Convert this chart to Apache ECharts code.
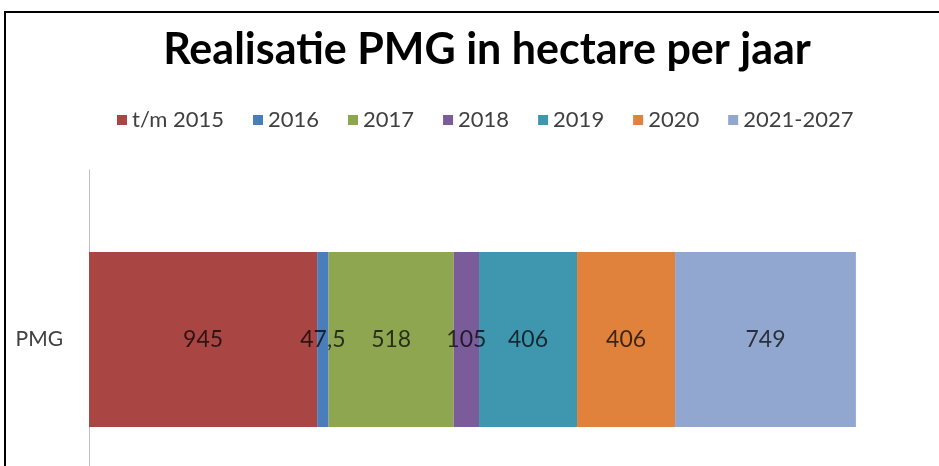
<!DOCTYPE html>
<html>
<head>
<meta charset="utf-8">
<script src="https://cdn.jsdelivr.net/npm/echarts@6/dist/echarts.min.js"></script>
<style>
html,body{margin:0;padding:0;background:#fff;}
#chart{width:939px;height:466px;}
</style>
</head>
<body>
<div id="chart"></div>
<script>
const titleText = 'Realisatie PMG in hectare per jaar';
const categories = ['PMG'];
const seriesNames = ['t/m 2015', '2016', '2017', '2018', '2019', '2020', '2021-2027'];
const seriesValues = [945, 47.5, 518, 105, 406, 406, 749];
const seriesColors = ['#A94643', '#4A7EBB', '#8DA64F', '#7B5C9A', '#3F96AF', '#E0823C', '#91A7CF'];

const chart = echarts.init(document.getElementById('chart'));
const font = 'Lato, "Open Sans", sans-serif';

const series = seriesNames.map((name, i) => ({
  name: name,
  type: 'bar',
  stack: 'total',
  barWidth: 175,
  data: [seriesValues[i]],
  itemStyle: { color: seriesColors[i] },
  label: {
    show: true,
    position: 'inside',
    color: 'rgba(0,0,0,0.72)',
    fontFamily: font,
    fontSize: 23,
    formatter: p => String(p.value).replace('.', ',')
  },
  emphasis: { disabled: true }
}));

chart.setOption({
  animation: false,
  backgroundColor: '#fff',
  graphic: [{
    type: 'rect',
    shape: { x: 5, y: 12, width: 1000, height: 1000 },
    style: { fill: 'none', stroke: '#000', lineWidth: 2 },
    silent: true
  }],
  title: {
    text: titleText,
    left: 482,
    textAlign: 'center',
    top: 24,
    textStyle: { fontFamily: font, fontWeight: 'bold', fontSize: 43, color: '#000' }
  },
  legend: {
    left: 112,
    top: 104,
    itemWidth: 10,
    itemHeight: 10,
    itemGap: 29,
    icon: 'rect',
    textStyle: { fontFamily: font, fontSize: 22, color: '#404040' },
    data: seriesNames
  },
  grid: { left: 89, top: 170, width: 845, height: 339, outerBoundsMode: 'none' },
  xAxis: {
    type: 'value',
    min: 0,
    max: 3500,
    show: false
  },
  yAxis: {
    type: 'category',
    data: categories,
    axisLine: { show: true, lineStyle: { color: '#BFBFBF', width: 1 } },
    axisTick: { show: false },
    axisLabel: { fontFamily: font, fontSize: 21, color: '#404040', margin: 26 }
  },
  series: series
});
</script>
</body>
</html>
